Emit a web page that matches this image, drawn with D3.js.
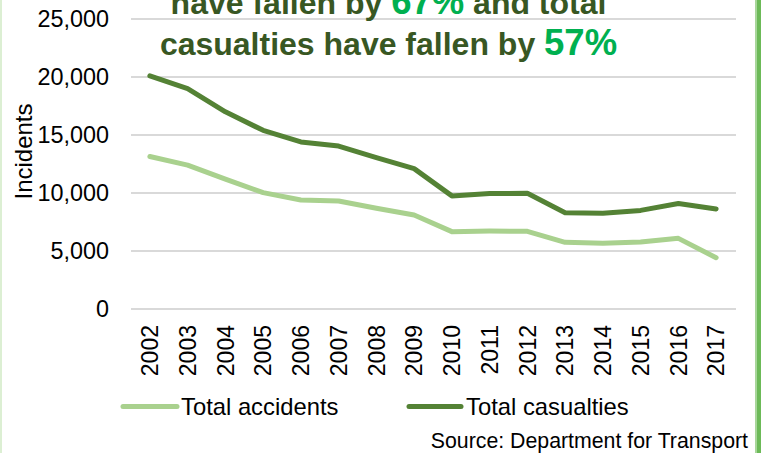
<!DOCTYPE html>
<html>
<head>
<meta charset="utf-8">
<script src="https://cdn.jsdelivr.net/npm/d3@7"></script>
<style>
  html, body { margin: 0; padding: 0; background: #ffffff; }
  svg { display: block; font-family: "Liberation Sans", Arial, Helvetica, sans-serif; }
</style>
</head>
<body>
<svg id="chart" width="761" height="453"></svg>
<script>
// ---- Data ----
const years = ["2002","2003","2004","2005","2006","2007","2008","2009","2010","2011","2012","2013","2014","2015","2016","2017"];
const totalAccidents = [13150, 12400, 11200, 10030, 9400, 9310, 8680, 8100, 6670, 6720, 6700, 5750, 5660, 5770, 6090, 4420];
const totalCasualties = [20100, 19000, 17000, 15400, 14400, 14050, 13050, 12100, 9750, 9950, 9980, 8300, 8250, 8500, 9100, 8620];
const yTicks = [0, 5000, 10000, 15000, 20000, 25000];
const seriesNames = ["Total accidents", "Total casualties"];
const titleLine1 = [["have fallen by ", false], ["67%", true], [" and total", false]];
const titleLine2 = [["casualties have fallen by ", false], ["57%", true]];
const yAxisTitle = "Incidents";
const sourceText = "Source: Department for Transport";

// ---- Styles ----
const colAccidents = "#a9d18e";
const colCasualties = "#548235";
const colTitle = "#385723";
const colPct = "#00b050";
const colGrid = "#d9d9d9";

const svg = d3.select("#chart");

// borders
svg.append("rect").attr("x", 0).attr("y", 0).attr("width", 2).attr("height", 453).attr("fill", "#dcefd3");
svg.append("rect").attr("x", 755).attr("y", 0).attr("width", 2).attr("height", 453).attr("fill", "#a8d69a");
svg.append("rect").attr("x", 757).attr("y", 0).attr("width", 4).attr("height", 453).attr("fill", "#6cba58");

// scales
const x = d3.scaleBand().domain(years).range([131, 735]).padding(0);
const y = d3.scaleLinear().domain([0, 25000]).range([309, 19]);
const cx = d => x(d) + x.bandwidth() / 2;

// gridlines
svg.append("g").selectAll("line").data(yTicks).join("line")
  .attr("x1", 131).attr("x2", 736)
  .attr("y1", d => y(d)).attr("y2", d => y(d))
  .attr("stroke", colGrid).attr("stroke-width", 2);

// y tick labels
const fmt = d3.format(",");
svg.append("g").selectAll("text").data(yTicks).join("text")
  .attr("x", 109).attr("y", d => y(d)).attr("dy", "0.36em")
  .attr("text-anchor", "end").attr("font-size", 23.4).attr("fill", "#000")
  .text(d => fmt(d));

// x tick labels (rotated)
svg.append("g").selectAll("text").data(years).join("text")
  .attr("transform", d => `translate(${cx(d)},325) rotate(-90)`)
  .attr("dy", "0.36em")
  .attr("text-anchor", "end").attr("font-size", 23).attr("fill", "#000")
  .text(d => d);

// y-axis title
svg.append("text")
  .attr("transform", "translate(31.5,151.5) rotate(-90)")
  .attr("text-anchor", "middle").attr("font-size", 24).attr("fill", "#000")
  .text(yAxisTitle);

// lines
const line = d3.line().x((d, i) => cx(years[i])).y(d => y(d));
svg.append("path").datum(totalAccidents)
  .attr("d", line).attr("fill", "none")
  .attr("stroke", colAccidents).attr("stroke-width", 5)
  .attr("stroke-linejoin", "round").attr("stroke-linecap", "round");
svg.append("path").datum(totalCasualties)
  .attr("d", line).attr("fill", "none")
  .attr("stroke", colCasualties).attr("stroke-width", 5)
  .attr("stroke-linejoin", "round").attr("stroke-linecap", "round");

// title
function titleLine(parts, baseline) {
  const t = svg.append("text").attr("x", 388.5).attr("y", baseline)
    .attr("text-anchor", "middle").attr("font-weight", "bold");
  parts.forEach(([s, pct]) => {
    t.append("tspan")
      .attr("font-size", pct ? 36.5 : 32)
      .attr("fill", pct ? colPct : colTitle)
      .text(s);
  });
}
titleLine(titleLine1, 13.5);
titleLine(titleLine2, 55);

// legend
const legend = [
  { name: seriesNames[0], color: colAccidents, x1: 123, x2: 177, tx: 181 },
  { name: seriesNames[1], color: colCasualties, x1: 409, x2: 461, tx: 466 }
];
const lg = svg.append("g");
legend.forEach(l => {
  lg.append("line").attr("x1", l.x1).attr("x2", l.x2).attr("y1", 406.5).attr("y2", 406.5)
    .attr("stroke", l.color).attr("stroke-width", 5).attr("stroke-linecap", "round");
  lg.append("text").attr("x", l.tx).attr("y", 406.5).attr("dy", "0.36em")
    .attr("font-size", 23.8).attr("fill", "#000").text(l.name);
});

// source
svg.append("text").attr("x", 748).attr("y", 448)
  .attr("text-anchor", "end").attr("font-size", 21.3).attr("fill", "#000")
  .text(sourceText);
</script>
</body>
</html>
